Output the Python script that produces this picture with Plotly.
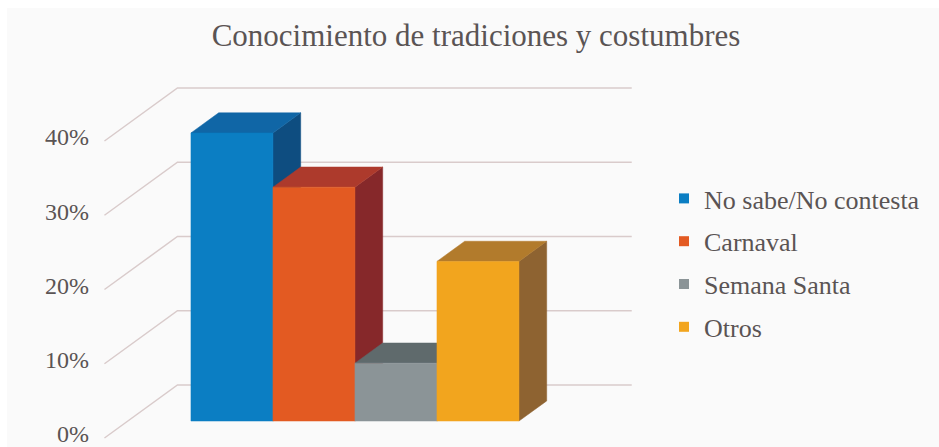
import plotly.graph_objects as go

# Survey results
categories = ["No sabe/No contesta", "Carnaval", "Semana Santa", "Otros"]
values = [38.8, 31.5, 7.8, 21.5]
tick_vals = [0, 10, 20, 30, 40]
tick_text = ["0%", "10%", "20%", "30%", "40%"]

front_colors = ["#0b7ec3", "#e35a22", "#8b9497", "#f2a51e"]
top_colors = ["#1066a6", "#ad3a2c", "#5f6a6c", "#b27b2c"]
side_colors = ["#0e4d80", "#86282a", "#4e5658", "#8e6331"]

W, H = 939, 447
PX_X = 82.0          # pixels per category unit
PX_Y = 7.425         # pixels per percentage point
X0_PX = 208.6        # pixel of category 0 on the front plane
Y0_PX = 438.0        # pixel of 0% on the front plane
L = 100

# oblique projection of depth (0 = front edge of floor, 1 = back wall)
DX = 73 / PX_X
DY = 53 / PX_Y
Z_FRONT, Z_BACK = 0.32, 0.70
GAP = 0.77
FLOOR_L = -0.5 - GAP
FLOOR_R = len(values) - 0.5 + GAP

SERIF = "Liberation Serif, Times New Roman, DejaVu Serif, serif"


def proj(x, y, z):
    return x + z * DX, y + z * DY


fig = go.Figure()

# walls: gridlines running from the front edge up the side wall, then across the back wall
for v in tick_vals:
    xs, ys = zip(proj(FLOOR_L, v, 0), proj(FLOOR_L, v, 1), proj(FLOOR_R, v, 1))
    fig.add_trace(go.Scatter(x=xs, y=ys, mode="lines", line=dict(color="#d9cbcb", width=1.5),
                             hoverinfo="skip", showlegend=False))

# 3D columns: side, top, then front so later columns overlap earlier ones
for i, (name, v) in enumerate(zip(categories, values)):
    xl, xr = i - 0.5, i + 0.5
    side = [proj(xr, 0, Z_FRONT), proj(xr, v, Z_FRONT), proj(xr, v, Z_BACK), proj(xr, 0, Z_BACK)]
    top = [proj(xl, v, Z_FRONT), proj(xr, v, Z_FRONT), proj(xr, v, Z_BACK), proj(xl, v, Z_BACK)]
    front = [proj(xl, 0, Z_FRONT), proj(xr, 0, Z_FRONT), proj(xr, v, Z_FRONT), proj(xl, v, Z_FRONT)]
    for poly, col in ((side, side_colors[i]), (top, top_colors[i]), (front, front_colors[i])):
        xs, ys = zip(*(poly + poly[:1]))
        fig.add_trace(go.Scatter(x=xs, y=ys, mode="lines", fill="toself", fillcolor=col,
                                 line=dict(color=col, width=0.5), name=name,
                                 hoverinfo="name", showlegend=False))

# legend keys
for i, name in enumerate(categories):
    fig.add_trace(go.Scatter(x=[None], y=[None], mode="markers", name=name,
                             legendgroup=name,
                             marker=dict(symbol="square", size=10, color=front_colors[i])))

x_min = (L - X0_PX) / PX_X
x_max = (W - X0_PX) / PX_X
y_min = -(H - Y0_PX) / PX_Y
y_max = y_min + H / PX_Y

text_col = "#5a5454"
fig.update_layout(
    width=W, height=H,
    margin=dict(l=L, r=0, t=0, b=0),
    paper_bgcolor="#ffffff",
    plot_bgcolor="rgba(0,0,0,0)",
    font=dict(family=SERIF, color=text_col),
    xaxis=dict(range=[x_min, x_max], visible=False, fixedrange=True),
    yaxis=dict(range=[y_min, y_max], tickvals=tick_vals, ticktext=tick_text,
               showgrid=False, zeroline=False, showline=False, ticks="",
               ticklabelstandoff=10, ticklabelshift=-4, ticklabeloverflow="allow",
               automargin=False,
               tickfont=dict(size=24, color=text_col, family=SERIF)),
    title=dict(text="Conocimiento de tradiciones y costumbres", xref="container",
               x=476 / W, xanchor="center", y=1 - 35 / H, yanchor="middle",
               font=dict(size=31, color=text_col, family=SERIF)),
    legend=dict(x=(664 - L) / (W - L), xanchor="left", y=1 - 175 / H, yanchor="top",
                bgcolor="rgba(0,0,0,0)", traceorder="grouped", tracegroupgap=6,
                itemwidth=30,
                font=dict(size=26, color=text_col, family=SERIF)),
    shapes=[dict(type="rect", xref="paper", yref="paper", layer="below",
                 x0=(7 - L) / (W - L), x1=1, y0=0, y1=1 - 8 / H,
                 fillcolor="#fafafa", line=dict(width=0))],
)

fig.write_html("out.html")
